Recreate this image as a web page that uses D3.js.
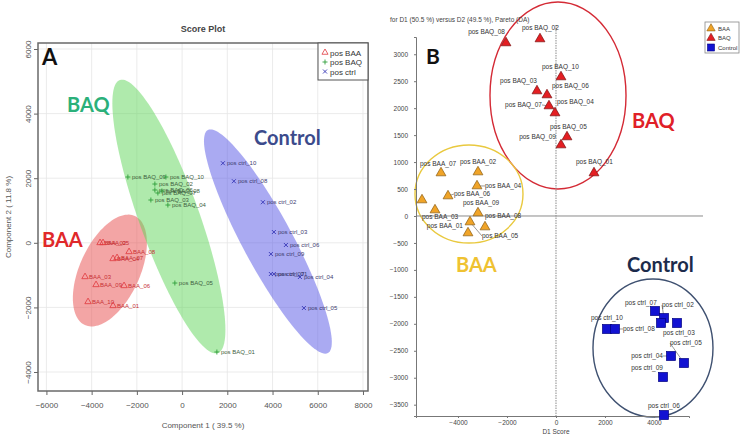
<!DOCTYPE html>
<html><head><meta charset="utf-8">
<script src="https://cdn.jsdelivr.net/npm/d3@7"></script>
<style>body{margin:0;background:#fff}svg{display:block}</style>
</head><body>
<script>
// ---------------- Panel A data (Score Plot) ----------------
const xTicksA = [-6000,-4000,-2000,0,2000,4000,6000,8000];
const yTicksA = [-4000,-2000,0,2000,4000,6000];
const legendA = ["pos BAA","pos BAQ","pos ctrl"];

const baaA_names = ["BAA_02","BAA_05","BAA_08","BAA_04","BAA_07","BAA_03","BAA_09","BAA_06","BAA_10","BAA_01"];
const baaA_x = [-3628,-3496,-2345,-3053,-2876,-4292,-3805,-2566,-4159,-3053];
const baaA_y = [0,0,-279,-495,-464,-1053,-1300,-1331,-1827,-1950];

const baqA_names = ["pos BAQ_09","pos BAQ_10","pos BAQ_02","pos BAQ_06","pos BAQ_07","pos BAQ_08","pos BAQ_03","pos BAQ_04","pos BAQ_05","pos BAQ_01"];
const baqA_x = [-2397,-716,-1203,-1203,-1070,-893,-1380,-628,-319,1539];
const baqA_y = [2037,2037,1820,1635,1542,1604,1325,1170,-1245,-3381];

const ctrlA_names = ["pos ctrl_10","pos ctrl_08","pos ctrl_02","pos ctrl_03","pos ctrl_06","pos ctrl_09","pos ctrl_07","pos ctrl_01","pos ctrl_04","pos ctrl_05"];
const ctrlA_x = [1805,2291,3574,4060,4591,3927,3927,4060,5210,5387];
const ctrlA_y = [2464,1907,1257,334,-68,-347,-966,-966,-1059,-2019];

// confidence ellipses A: centre, half-major vector, half-minor vector (data units)
const ellA_group = ["BAA","BAQ","ctrl"];
const ellA_cx = [-3193,-584,3795];
const ellA_cy = [-858,814,40];
const ellA_ax = [1106,2167,2654];
const ellA_ay = [1687,-4226,-3452];
const ellA_bx = [1207,1247,973];
const ellA_by = [-387,313,368];

// ---------------- Panel B data (D1 vs D2 scores) ----------------
const xTicksB = [-4000,-2000,0,2000,4000];
const yTicksB = [-3500,-3000,-2500,-2000,-1500,-1000,-500,0,500,1000,1500,2000,2500,3000];
const legendB = ["BAA","BAQ","Control"];

const baqB_names = ["pos BAQ_08","pos BAQ_02","pos BAQ_10","pos BAQ_03","pos BAQ_06","pos BAQ_07","pos BAQ_04","pos BAQ_05","pos BAQ_09","pos BAQ_01"];
const baqB_x = [-2041,-653,204,-776,-367,-286,-41,449,204,1551];
const baqB_y = [3210,3284,2579,2319,2245,2041,1911,1466,1317,798];

const baaB_names = ["pos BAA_07","pos BAA_02","pos BAA_04","pos BAA_06","pos BAA_10","pos BAA_09","pos BAA_03","pos BAA_01","pos BAA_05","pos BAA_08"];
const baaB_x = [-4694,-3184,-3224,-4408,-5469,-3184,-4939,-3592,-3510,-2898];
const baaB_y = [798,816,557,371,297,56,111,-315,-111,-204];

const ctrlB_names = ["pos ctrl_07","pos ctrl_02","pos ctrl_01","pos ctrl_03","pos ctrl_10","pos ctrl_08","pos ctrl_05","pos ctrl_04","pos ctrl_09","pos ctrl_06"];
const ctrlB_x = [4041,4408,4286,4939,2082,2408,5224,4694,4367,4408];
const ctrlB_y = [-1763,-1892,-1985,-1985,-2096,-2096,-2727,-2597,-2987,-3692];

// group ellipses B (axis aligned): centre and radii (data units)
const ellB_group = ["BAQ","BAA","Control"];
const ellB_cx = [82,-3551,3959];
const ellB_cy = [2235,408,-2449];
const ellB_rx = [2776,2204,2449];
const ellB_ry = [1734,909,1280];

// ---------------- layout / style config (not data) ----------------
// label placement for panel B: [dx, dy, anchor, leader]
const labelPlaceB = {
 "pos BAQ_08":[-1,-11,"end",0],"pos BAQ_02":[-18,-11,"start",0],"pos BAQ_10":[-19,-10,"start",0],
 "pos BAQ_03":[0,-10,"end",0],"pos BAQ_06":[5,-9,"start",0],"pos BAQ_07":[-7,-1,"end",1],
 "pos BAQ_04":[2,-11,"start",0],"pos BAQ_05":[-17,-10,"start",0],"pos BAQ_09":[-5,-8,"end",0],
 "pos BAQ_01":[-18,-11,"start",0],
 "pos BAA_07":[-21,-9,"start",0],"pos BAA_02":[-18,-10,"start",0],"pos BAA_04":[8,0,"start",1],
 "pos BAA_06":[6,-2,"start",1],"pos BAA_09":[-15,-10,"start",0],"pos BAA_03":[-13,7,"start",0],
 "pos BAA_01":[-5,-7,"end",0],"pos BAA_05":[12,14,"start",1],"pos BAA_08":[0,-11,"start",0],
 "pos ctrl_07":[-30,-8,"start",0],"pos ctrl_02":[-2,-13,"start",1],"pos ctrl_03":[-14,10,"start",0],
 "pos ctrl_10":[-16,-11,"start",0],"pos ctrl_08":[8,0,"start",1],"pos ctrl_05":[-14,-20,"start",1],
 "pos ctrl_04":[-8,0,"end",1],"pos ctrl_09":[0,-9,"end",0],"pos ctrl_06":[-16,-9,"start",0]
};

const W = 745, H = 439;
const svg = d3.select("body").append("svg").attr("width", W).attr("height", H)
  .style("font-family", "'Liberation Sans', Arial, sans-serif");

// =================== PANEL A ===================
const xA = d3.scaleLinear().domain([-6372, 8222]).range([38, 368]);
const yA = d3.scaleLinear().domain([-4588, 6186]).range([391, 43]);
const gA = svg.append("g");

// grid
gA.append("g").selectAll("line.vx").data(xTicksA).join("line")
  .attr("x1", d => xA(d)).attr("x2", d => xA(d)).attr("y1", 43).attr("y2", 391)
  .attr("stroke", "#e6e6e6").attr("stroke-width", 0.8);
gA.append("g").selectAll("line.hy").data(yTicksA).join("line")
  .attr("y1", d => yA(d)).attr("y2", d => yA(d)).attr("x1", 38).attr("x2", 368)
  .attr("stroke", "#e6e6e6").attr("stroke-width", 0.8);

// ellipses
const ellColA = {BAA: "#e74c4c", BAQ: "#5fd65a", ctrl: "#5555e6"};
const lineA = d3.line().x(d => xA(d[0])).y(d => yA(d[1])).curve(d3.curveLinearClosed);
ellA_group.forEach((g, i) => {
  const pts = d3.range(0, 120).map(k => {
    const t = k / 120 * 2 * Math.PI;
    return [ellA_cx[i] + ellA_ax[i] * Math.cos(t) + ellA_bx[i] * Math.sin(t),
            ellA_cy[i] + ellA_ay[i] * Math.cos(t) + ellA_by[i] * Math.sin(t)];
  });
  gA.append("path").attr("d", lineA(pts)).attr("fill", ellColA[g]).attr("fill-opacity", 0.5);
});

// frame
gA.append("rect").attr("x", 38).attr("y", 43).attr("width", 330).attr("height", 348)
  .attr("fill", "none").attr("stroke", "#6a6a6a").attr("stroke-width", 1.5);

// axes
const axA_x = gA.append("g").attr("transform", "translate(0,391)")
  .call(d3.axisBottom(xA).tickValues(xTicksA).tickSize(4).tickPadding(7).tickFormat(d3.format("d")));
axA_x.select(".domain").remove();
axA_x.selectAll("line").attr("stroke", "#666");
axA_x.selectAll("text").attr("font-size", 8).attr("fill", "#555");
const axA_y = gA.append("g").attr("transform", "translate(38,0)")
  .call(d3.axisLeft(yA).tickValues(yTicksA).tickSize(4).tickFormat(d3.format("d")));
axA_y.select(".domain").remove();
axA_y.selectAll("line").attr("stroke", "#666");
axA_y.selectAll("text").attr("font-size", 8).attr("fill", "#555")
  .attr("transform", "rotate(-90)").attr("x", 0).attr("y", -7).attr("dy", 0)
  .attr("text-anchor", "middle");

gA.append("text").attr("x", 203).attr("y", 32).attr("text-anchor", "middle")
  .attr("font-size", 9).attr("font-weight", "bold").attr("fill", "#444").text("Score Plot");
gA.append("text").attr("x", 203).attr("y", 428).attr("text-anchor", "middle")
  .attr("font-size", 8).attr("fill", "#555").text("Component 1 ( 39.5 %)");
gA.append("text").attr("transform", "translate(11,217) rotate(-90)").attr("text-anchor", "middle")
  .attr("font-size", 8).attr("fill", "#555").text("Component 2 ( 11.8 %)");

// markers A
const triA = d3.symbol().type(d3.symbolTriangle).size(18);
const plusA = d3.symbol().type(d3.symbolCross).size(14);
function drawSeriesA(names, xs, ys, kind, col, lcol) {
  const g = gA.append("g");
  names.forEach((n, i) => {
    const px = xA(xs[i]), py = yA(ys[i]);
    if (kind === "tri") {
      g.append("path").attr("d", triA()).attr("transform", `translate(${px},${py})`)
        .attr("fill", "none").attr("stroke", col).attr("stroke-width", 0.8);
    } else if (kind === "plus") {
      g.append("path").attr("d", "M-2.5,0H2.5M0,-2.5V2.5").attr("transform", `translate(${px},${py})`)
        .attr("stroke", col).attr("stroke-width", 0.9);
    } else {
      g.append("path").attr("d", "M-2,-2L2,2M-2,2L2,-2").attr("transform", `translate(${px},${py})`)
        .attr("stroke", col).attr("stroke-width", 0.9);
    }
    g.append("text").attr("x", px + 4).attr("y", py + 2).attr("font-size", 6)
      .attr("fill", lcol).text(n);
  });
}
drawSeriesA(baaA_names, baaA_x, baaA_y, "tri", "#e0393e", "#c83034");
drawSeriesA(baqA_names, baqA_x, baqA_y, "plus", "#2f9e3a", "#3f5f3f");
drawSeriesA(ctrlA_names, ctrlA_x, ctrlA_y, "x", "#3535b5", "#3b3b70");

// legend A
const lgA = gA.append("g");
lgA.append("rect").attr("x", 318).attr("y", 43).attr("width", 50).attr("height", 37)
  .attr("fill", "#fff").attr("stroke", "#555").attr("stroke-width", 1);
const lgSymA = [
  g => g.append("path").attr("d", d3.symbol().type(d3.symbolTriangle).size(16)()).attr("fill", "none").attr("stroke", "#e0393e").attr("stroke-width", 0.8),
  g => g.append("path").attr("d", "M-2.5,0H2.5M0,-2.5V2.5").attr("stroke", "#2f9e3a").attr("stroke-width", 0.9),
  g => g.append("path").attr("d", "M-2,-2L2,2M-2,2L2,-2").attr("stroke", "#3535b5").attr("stroke-width", 0.9)
];
legendA.forEach((t, i) => {
  const g = lgA.append("g").attr("transform", `translate(325,${52.5 + i * 9.5})`);
  lgSymA[i](g);
  lgA.append("text").attr("x", 330).attr("y", 55.5 + i * 9.5).attr("font-size", 8).attr("fill", "#333").text(t);
});

// big annotations A
const bigFont = "Lato, 'Open Sans', sans-serif";
gA.append("text").attr("x", 42).attr("y", 65).attr("font-family", bigFont).attr("font-size", 22)
  .attr("font-weight", "bold").attr("fill", "#111").text("A");
gA.append("text").attr("x", 67).attr("y", 112).attr("font-family", bigFont).attr("font-size", 20)
  .attr("font-weight", "bold").attr("fill", "#2bb07a").text("BAQ");
gA.append("text").attr("x", 254).attr("y", 145).attr("font-family", bigFont).attr("font-size", 20)
  .attr("font-weight", "bold").attr("fill", "#3c4b8c").text("Control");
gA.append("text").attr("x", 42).attr("y", 247).attr("font-family", bigFont).attr("font-size", 20)
  .attr("font-weight", "bold").attr("fill", "#e0282a").text("BAA");

// =================== PANEL B ===================
const xB = d3.scaleLinear().domain([-5714, 5429]).range([416, 689]);
const yB = d3.scaleLinear().domain([-3710, 3320]).range([416, 37]);
const gB = svg.append("g");

// ellipses
const ellColB = {BAQ: "#d42a35", BAA: "#e9c93f", Control: "#3e5070"};
ellB_group.forEach((g, i) => {
  gB.append("ellipse").attr("cx", xB(ellB_cx[i])).attr("cy", yB(ellB_cy[i]))
    .attr("rx", xB(ellB_cx[i] + ellB_rx[i]) - xB(ellB_cx[i]))
    .attr("ry", yB(ellB_cy[i]) - yB(ellB_cy[i] + ellB_ry[i]))
    .attr("fill", "none").attr("stroke", ellColB[g]).attr("stroke-width", 1.4);
});

// zero lines
gB.append("line").attr("x1", 416).attr("x2", 703).attr("y1", yB(0)).attr("y2", yB(0))
  .attr("stroke", "#8a8a8a").attr("stroke-width", 1);
gB.append("line").attr("x1", xB(0)).attr("x2", xB(0)).attr("y1", 25).attr("y2", 416)
  .attr("stroke", "#8a8a8a").attr("stroke-width", 1).attr("stroke-dasharray", "1.5,1");

// axes B
const axB_y = gB.append("g").attr("transform", "translate(416,0)")
  .call(d3.axisLeft(yB).tickValues(yTicksB).tickSize(2).tickPadding(6).tickFormat(d3.format("d")));
axB_y.select(".domain").attr("stroke", "#777");
axB_y.selectAll("line").attr("stroke", "#777");
axB_y.selectAll("text").attr("font-size", 6.5).attr("fill", "#444");
const axB_x = gB.append("g").attr("transform", "translate(0,416)")
  .call(d3.axisBottom(xB).tickValues(xTicksB).tickSize(2).tickPadding(2).tickFormat(d3.format("d")));
axB_x.select(".domain").attr("stroke", "#777");
axB_x.selectAll("line").attr("stroke", "#777");
axB_x.selectAll("text").attr("font-size", 6.5).attr("fill", "#444");

gB.append("text").attr("x", xB(0)).attr("y", 434).attr("text-anchor", "middle")
  .attr("font-size", 6.5).attr("fill", "#444").text("D1 Score");
gB.append("text").attr("x", 390).attr("y", 22).attr("font-size", 6.5).attr("fill", "#444")
  .text("for D1 (50.5 %) versus D2 (49.5 %), Pareto (DA)");

// markers B
const triB = d3.symbol().type(d3.symbolTriangle).size(42);
function drawSeriesB(names, xs, ys, kind, fill, stroke) {
  const gl = gB.append("g"), gm = gB.append("g"), gt = gB.append("g");
  names.forEach((n, i) => {
    const px = xB(xs[i]), py = yB(ys[i]);
    const lp = labelPlaceB[n];
    if (lp && lp[3]) {
      gl.append("line").attr("x1", px).attr("y1", py).attr("x2", px + lp[0]).attr("y2", py + lp[1])
        .attr("stroke", "#555").attr("stroke-width", 0.6);
    }
    if (kind === "tri") {
      gm.append("path").attr("d", triB()).attr("transform", `translate(${px},${py})`)
        .attr("fill", fill).attr("stroke", stroke).attr("stroke-width", 0.7);
    } else {
      gm.append("rect").attr("x", px - 4.5).attr("y", py - 4.5).attr("width", 9).attr("height", 9)
        .attr("fill", fill).attr("stroke", stroke).attr("stroke-width", 0.7);
    }
    if (lp) {
      gt.append("text").attr("x", px + lp[0]).attr("y", py + lp[1]).attr("dy", "0.35em")
        .attr("text-anchor", lp[2]).attr("font-size", 6.5).attr("fill", "#333").text(n);
    }
  });
}
drawSeriesB(baaB_names, baaB_x, baaB_y, "tri", "#f0a428", "#8a5c12");
drawSeriesB(baqB_names, baqB_x, baqB_y, "tri", "#e41e22", "#7a1010");
drawSeriesB(ctrlB_names, ctrlB_x, ctrlB_y, "sq", "#1212d2", "#000080");

// legend B
const lgB = gB.append("g");
lgB.append("rect").attr("x", 705).attr("y", 22).attr("width", 34).attr("height", 31)
  .attr("fill", "#fff").attr("stroke", "#888").attr("stroke-width", 0.8);
const lgColB = [["#f0a428", "#8a5c12"], ["#e41e22", "#7a1010"], ["#1212d2", "#000080"]];
legendB.forEach((t, i) => {
  const cy = 28.5 + i * 9.5;
  if (i < 2) {
    lgB.append("path").attr("d", d3.symbol().type(d3.symbolTriangle).size(30)())
      .attr("transform", `translate(711,${cy})`).attr("fill", lgColB[i][0]).attr("stroke", lgColB[i][1]).attr("stroke-width", 0.6);
  } else {
    lgB.append("rect").attr("x", 707.5).attr("y", cy - 3.5).attr("width", 7).attr("height", 7)
      .attr("fill", lgColB[i][0]).attr("stroke", lgColB[i][1]).attr("stroke-width", 0.6);
  }
  lgB.append("text").attr("x", 718).attr("y", cy).attr("dy", "0.35em").attr("font-size", 6)
    .attr("fill", "#333").text(t);
});

// big annotations B
gB.append("text").attr("x", 426).attr("y", 64).attr("font-family", bigFont).attr("font-size", 21)
  .attr("font-weight", "bold").attr("fill", "#111").text("B");
gB.append("text").attr("x", 632).attr("y", 128).attr("font-family", bigFont).attr("font-size", 20)
  .attr("font-weight", "bold").attr("fill", "#e02028").text("BAQ");
gB.append("text").attr("x", 456).attr("y", 272).attr("font-family", bigFont).attr("font-size", 20)
  .attr("font-weight", "bold").attr("fill", "#efc232").text("BAA");
gB.append("text").attr("x", 627).attr("y", 272).attr("font-family", bigFont).attr("font-size", 20)
  .attr("font-weight", "bold").attr("fill", "#1c2b4b").text("Control");
</script>
</body></html>
